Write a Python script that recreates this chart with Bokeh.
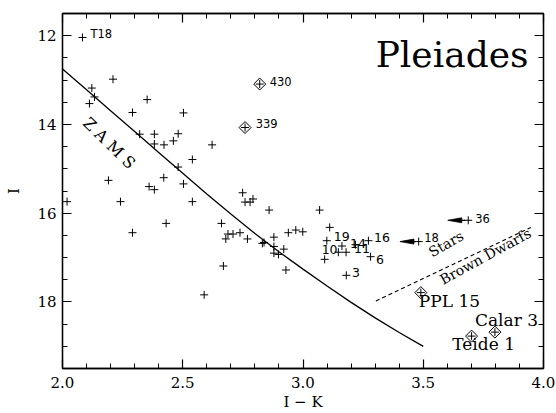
import numpy as np
from bokeh.plotting import figure
from bokeh.models import Range1d, FixedTicker, LinearAxis, PrintfTickFormatter
from bokeh.core.properties import value
from bokeh.embed import file_html
from bokeh.resources import INLINE

# ---------------- data ----------------
# Pleiades candidates (crosses): I-K colour and I magnitude
star_ik = [2.083, 2.210, 2.122, 2.133, 2.112, 2.352, 2.291, 2.503, 2.321, 2.382,
           2.481, 2.382, 2.422, 2.461, 2.622, 2.540, 2.481, 2.191, 2.421, 2.360,
           2.382, 2.503, 2.019, 2.241, 2.540, 2.749, 2.759, 2.780, 2.792, 2.859,
           3.069, 2.661, 2.688, 2.709, 2.738, 2.679, 2.769, 2.831, 2.838, 2.879,
           2.879, 2.879, 2.898, 2.920, 2.939, 2.970, 2.999, 2.929, 2.669, 2.589,
           3.111, 3.099, 3.147, 3.179, 3.162, 3.090, 3.218, 3.272, 3.281, 3.180,
           3.481, 3.687, 2.431, 2.291]
star_i = [12.04, 12.98, 13.18, 13.38, 13.53, 13.44, 13.73, 13.74, 14.22, 14.22,
          14.21, 14.44, 14.46, 14.37, 14.46, 14.79, 14.96, 15.26, 15.20, 15.40,
          15.47, 15.34, 15.74, 15.74, 15.74, 15.54, 15.75, 15.75, 15.68, 15.93,
          15.93, 16.23, 16.47, 16.47, 16.44, 16.58, 16.58, 16.68, 16.66, 16.54,
          16.75, 16.90, 16.93, 16.81, 16.44, 16.38, 16.42, 17.28, 17.19, 17.84,
          16.32, 16.62, 16.88, 16.88, 16.74, 17.04, 16.71, 16.62, 16.98, 17.40,
          16.64, 16.16, 16.23, 16.44]

# labelled crosses: name and index of the star it belongs to
cross_names = ["T18", "19", "14", "16", "10", "11", "6", "3", "18", "36"]
cross_index = [0, 51, 54, 57, 55, 53, 58, 59, 60, 61]

# special objects (diamonds)
obj_names = ["430", "339", "PPL 15", "Calar 3", "Teide 1"]
obj_ik = [2.820, 2.759, 3.490, 3.798, 3.701]
obj_i = [13.09, 14.07, 17.79, 18.68, 18.77]

# colour limits (arrows) for objects 36 and 18
arrow_index = [61, 60]
arrow_tip_ik = [3.602, 3.403]

# zero-age main sequence
zams_ik = [2.0, 2.1, 2.2, 2.3, 2.4, 2.5, 2.6, 2.7, 2.8, 2.9, 3.0, 3.1, 3.2, 3.3, 3.4, 3.5]
zams_i = [12.75, 13.22, 13.69, 14.16, 14.63, 15.10, 15.57, 16.02, 16.46, 16.87,
          17.26, 17.64, 18.01, 18.36, 18.69, 19.00]

# stellar / substellar boundary
bd_ik = [3.303, 3.947]
bd_i = [17.98, 16.32]

x_ticks = [2.0, 2.5, 3.0, 3.5, 4.0]
y_ticks = [12, 14, 16, 18]

# ---------------- style ----------------
SERIF = value("DejaVu Serif")
SANS = value("DejaVu Sans")
FRAME_W, FRAME_H = 481, 355
PX_X = FRAME_W / 2.0   # pixels per unit I-K
PX_Y = FRAME_H / 8.0   # pixels per magnitude

def off(x, y, dx, dy):
    return x + dx / PX_X, y + dy / PX_Y

p = figure(frame_width=FRAME_W, frame_height=FRAME_H,
           x_range=Range1d(2.0, 4.0), y_range=Range1d(19.5, 11.5),
           output_backend="svg", toolbar_location=None,
           min_border_left=62, min_border_right=12, min_border_top=13, min_border_bottom=43)
p.background_fill_color = "white"
p.border_fill_color = "white"
p.outline_line_color = "black"
p.outline_line_width = 1.3
p.xgrid.visible = False
p.ygrid.visible = False

xt = FixedTicker(ticks=x_ticks, minor_ticks=list(np.round(np.arange(2.0, 4.001, 0.1), 2)))
yt = FixedTicker(ticks=y_ticks, minor_ticks=list(np.arange(11.5, 19.51, 0.5)))
p.xaxis.ticker = xt
p.yaxis.ticker = yt
p.xaxis.formatter = PrintfTickFormatter(format="%.1f")
p.xaxis.axis_label = "I \u2212 K"
p.yaxis.axis_label = "I"

for ax in [p.xaxis[0], p.yaxis[0]]:
    ax.major_label_text_font = "DejaVu Serif"
    ax.major_label_text_font_size = "15px"
    ax.major_label_text_color = "black"
    ax.axis_label_text_font = "DejaVu Serif"
    ax.axis_label_text_font_size = "15px"
    ax.axis_label_text_font_style = "normal"
    ax.axis_label_text_color = "black"

p.xaxis.major_label_standoff = 8
p.xaxis.axis_label_standoff = 2
p.yaxis.major_label_standoff = 6
p.yaxis.axis_label_standoff = 11

for loc, tk in [("above", xt), ("right", yt)]:
    ax = LinearAxis(ticker=tk, major_label_text_font_size="1px", major_label_standoff=0,
                    major_label_text_color=None)
    p.add_layout(ax, loc)

for ax in p.axis:
    ax.major_tick_in = 9
    ax.major_tick_out = 0
    ax.minor_tick_in = 5
    ax.minor_tick_out = 0
    ax.axis_line_color = "black"
    ax.axis_line_width = 1.3
    ax.major_tick_line_color = "black"
    ax.minor_tick_line_color = "black"
    ax.major_tick_line_width = 1.2

# ZAMS
p.line(zams_ik, zams_i, line_color="black", line_width=1.3)
# boundary
p.line(bd_ik, bd_i, line_color="black", line_width=1.1, line_dash="4 3")

# crosses
p.scatter(star_ik, star_i, marker="cross", size=8, line_color="black", line_width=1)

# diamonds with crosses
half_d = 6.0
dxs = [[x - half_d / PX_X, x, x + half_d / PX_X, x] for x in obj_ik]
dys = [[y, y - half_d / PX_Y, y, y + half_d / PX_Y] for y in obj_i]
p.patches(dxs, dys, fill_color=None, line_color="black", line_width=1)
p.scatter(obj_ik, obj_i, marker="cross", size=8, line_color="black", line_width=1)

# arrows (colour limits)
wedge_len, half_h = 14.0, 2.5
xs, ys, lx, ly = [], [], [], []
for k, tip in zip(arrow_index, arrow_tip_ik):
    sx, sy = star_ik[k], star_i[k]
    base = tip + wedge_len / PX_X
    xs.append([tip, base, base])
    ys.append([sy, sy - half_h / PX_Y, sy + half_h / PX_Y])
    lx.append([base, sx - 3 / PX_X])
    ly.append([sy, sy])
p.patches(xs, ys, fill_color="black", line_color="black", line_width=0.8)
p.multi_line(lx, ly, line_color="black", line_width=1.2)

# cross labels
cross_off = {"T18": (8, -3), "19": (7, -4.3), "14": (8, -3), "16": (5.6, -3.3),
             "10": (-3, -9.4), "11": (8, -3.4), "6": (5.3, 3.3), "3": (5.8, -3.3),
             "18": (5.5, -4), "36": (7, -2)}
cross_size = {"T18": "11.5px", "18": "11.5px", "36": "11.5px"}
for name, k in zip(cross_names, cross_index):
    dx, dy = cross_off[name]
    tx, ty = off(star_ik[k], star_i[k], dx, dy)
    p.text([tx], [ty], text=[name], text_font=SANS,
           text_font_size=cross_size.get(name, "12.5px"),
           text_align="left", text_baseline="middle", text_color="black")

# object labels
obj_off = {"430": (10, -2.5), "339": (10.7, -3.6), "PPL 15": (-2, 8.5),
           "Calar 3": (-20, -11.7), "Teide 1": (-19.3, 8.3)}
for name, x, y in zip(obj_names, obj_ik, obj_i):
    dx, dy = obj_off[name]
    tx, ty = off(x, y, dx, dy)
    big = name in ("PPL 15", "Calar 3", "Teide 1")
    p.text([tx], [ty], text=[name], text_font=SERIF if big else SANS,
           text_font_size="17px" if big else "11.5px",
           text_align="left", text_baseline="middle", text_color="black")

# annotations
p.text([3.302], [12.42], text=["Pleiades"], text_font=SERIF, text_font_size="36px",
       text_align="left", text_baseline="middle", text_color="black")
p.text([2.217], [14.54], text=["Z  A  M  S"], text_font=SERIF, text_font_size="16px",
       angle=-0.77, text_align="center", text_baseline="middle", text_color="black")
p.text([3.595], [16.69], text=["Stars"], text_font=SERIF, text_font_size="14px",
       angle=0.52, text_align="center", text_baseline="middle", text_color="black")
p.text([3.758], [16.97], text=["Brown Dwarfs"], text_font=SERIF, text_font_size="14px",
       angle=0.5, text_align="center", text_baseline="middle", text_color="black")

open("out.html", "w").write(file_html(p, INLINE))
